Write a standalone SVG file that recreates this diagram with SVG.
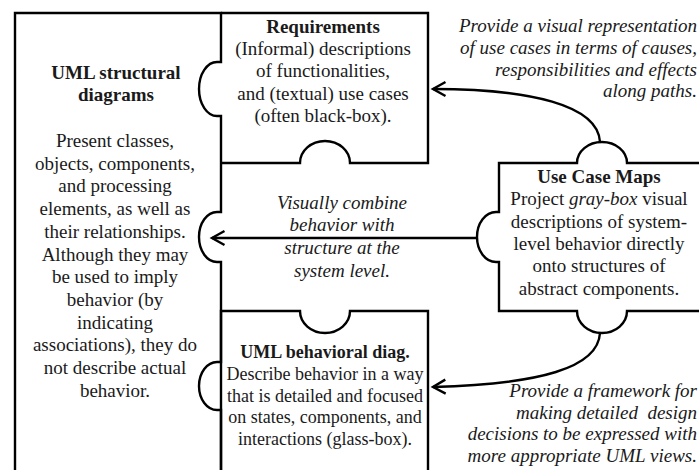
<svg xmlns="http://www.w3.org/2000/svg" width="699" height="470" viewBox="0 0 699 470">
<style>
.o{fill:none;stroke:#000;stroke-width:2.4;stroke-linejoin:miter}
.c{fill:none;stroke:#000;stroke-width:2.4}
text{font-family:"Liberation Serif","Times New Roman",serif;font-size:19px;fill:#1a1a1a}
.m{text-anchor:middle}
.e{text-anchor:end}
.b{font-weight:bold}
.i{font-style:italic}
.s{font-size:18px}
</style>
<defs>
<marker id="ah" markerUnits="userSpaceOnUse" viewBox="-15 -9 17 18" markerWidth="17" markerHeight="18" refX="0" refY="0" orient="auto" overflow="visible">
<path d="M-12.5,-7 L0,0 L-12.5,7" fill="none" stroke="#000" stroke-width="2.4"/>
</marker>
</defs>
<rect width="699" height="470" fill="#fff"/>

<g id="uml-structural">
<path class="o" d="M15,474 V13 H221 V62 H217 A18 27 0 0 0 217 116 H221 V212 H217 A18 25 0 0 0 217 262 H221 V362 H217 A18 24 0 0 0 217 410 H221 V474"/>
<text class="m b" x="116" y="79">UML structural</text>
<text class="m b" x="116" y="101">diagrams</text>
<text class="m" x="115" y="147">Present classes,</text>
<text class="m" x="115" y="169.7">objects, components,</text>
<text class="m" x="115" y="192.4">and processing</text>
<text class="m" x="115" y="215.1">elements, as well as</text>
<text class="m" x="115" y="237.8">their relationships.</text>
<text class="m" x="115" y="260.5">Although they may</text>
<text class="m" x="115" y="283.2">be used to imply</text>
<text class="m" x="115" y="305.9">behavior (by</text>
<text class="m" x="115" y="328.6">indicating</text>
<text class="m" x="115" y="351.3">associations), they do</text>
<text class="m" x="115" y="374">not describe actual</text>
<text class="m" x="115" y="396.7">behavior.</text>
</g>

<g id="requirements">
<path class="o" d="M221,13 H428 V163 H350 A25 22 0 0 0 300 163 H221"/>
<text class="m b" x="323" y="33">Requirements</text>
<text class="m" x="323" y="55.2">(Informal) descriptions</text>
<text class="m" x="323" y="77.4">of functionalities,</text>
<text class="m" x="323" y="99.6">and (textual) use cases</text>
<text class="m" x="323" y="121.8">(often black-box).</text>
</g>

<g id="uml-behavioral">
<path class="o" d="M221,474 V311 H300 A25 22 0 0 0 350 311 H428 V474"/>
<text class="m b s" x="325" y="358">UML behavioral diag.</text>
<text class="m s" x="325" y="380">Describe behavior in a way</text>
<text class="m s" x="325" y="401.7">that is detailed and focused</text>
<text class="m s" x="325" y="423.4">on states, components, and</text>
<text class="m s" x="325" y="445">interactions (glass-box).</text>
</g>

<g id="use-case-maps">
<path class="o" d="M712,163 H627 A25 21 0 0 0 577 163 H499 V212 H496 A19 25 0 0 0 496 262 H499 V311 H577 A25 22 0 0 0 627 311 H712"/>
<text class="m b" x="599" y="183">Use Case Maps</text>
<text class="m" x="599" y="205.3">Project <tspan class="i">gray-box</tspan> visual</text>
<text class="m" x="599" y="227.6">descriptions of system-</text>
<text class="m" x="599" y="250">level behavior directly</text>
<text class="m" x="599" y="272.2">onto structures of</text>
<text class="m" x="599" y="294.5">abstract components.</text>
</g>

<g id="connectors">
<path class="c" d="M600,142 C598,105 530,89 433,89" marker-end="url(#ah)"/>
<path class="c" d="M477,238 H212" marker-end="url(#ah)"/>
<path class="c" d="M600,333 C598,368 540,384 433,387" marker-end="url(#ah)"/>
</g>

<g id="labels">
<text class="e i" x="697" y="32">Provide a visual representation</text>
<text class="e i" x="697" y="54">of use cases in terms of causes,</text>
<text class="e i" x="697" y="76">responsibilities and effects</text>
<text class="e i" x="697" y="97">along paths.</text>
<text class="m i" x="342" y="209">Visually combine</text>
<text class="m i" x="342" y="231">behavior with</text>
<text class="m i" x="342" y="254">structure at the</text>
<text class="m i" x="342" y="276.5">system level.</text>
<text class="e i" x="697" y="397">Provide a framework for</text>
<text class="e i" x="697" y="418.5" xml:space="preserve">making detailed  design</text>
<text class="e i" x="697" y="440">decisions to be expressed with</text>
<text class="e i" x="697" y="461.5">more appropriate UML views.</text>
</g>
</svg>
